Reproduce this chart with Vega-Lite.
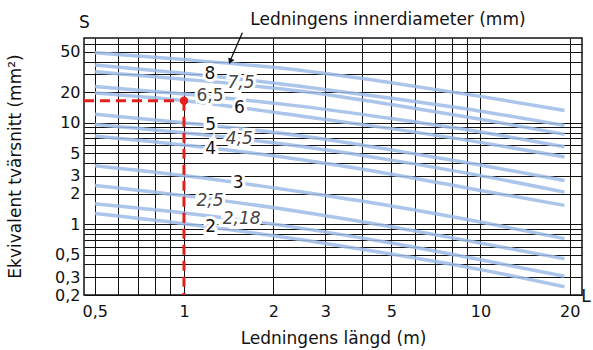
{
  "$schema": "https://vega.github.io/schema/vega-lite/v6.json",
  "width": 498,
  "height": 257,
  "autosize": "none",
  "padding": {"left": 84, "top": 38, "right": 11, "bottom": 55},
  "background": "white",
  "config": {
    "font": "DejaVu Sans",
    "view": {"stroke": "#111", "strokeWidth": 1.5},
    "axis": {"labelFont": "DejaVu Sans", "titleFont": "DejaVu Sans"}
  },
  "datasets": {
    "curves": [
      {"c": "10", "L": 0.5, "S": 48.9}, {"c": "10", "L": 1, "S": 42.0}, {"c": "10", "L": 2.5, "S": 32.7}, {"c": "10", "L": 5, "S": 24.8}, {"c": "10", "L": 10, "S": 18.2}, {"c": "10", "L": 19.2, "S": 13.2},
      {"c": "8", "L": 0.5, "S": 37.1}, {"c": "8", "L": 1, "S": 30.8}, {"c": "8", "L": 2.5, "S": 22.8}, {"c": "8", "L": 5, "S": 17.4}, {"c": "8", "L": 10, "S": 13.0}, {"c": "8", "L": 19.2, "S": 9.4},
      {"c": "7,5", "L": 0.5, "S": 31.9}, {"c": "7,5", "L": 1, "S": 26.9}, {"c": "7,5", "L": 2.5, "S": 20.4}, {"c": "7,5", "L": 5, "S": 15.1}, {"c": "7,5", "L": 10, "S": 10.8}, {"c": "7,5", "L": 19.2, "S": 7.7},
      {"c": "6,5", "L": 0.5, "S": 22.8}, {"c": "6,5", "L": 1, "S": 19.2}, {"c": "6,5", "L": 2.5, "S": 14.5}, {"c": "6,5", "L": 5, "S": 11.0}, {"c": "6,5", "L": 10, "S": 8.1}, {"c": "6,5", "L": 19.2, "S": 5.8},
      {"c": "6", "L": 0.5, "S": 19.6}, {"c": "6", "L": 1, "S": 16.5}, {"c": "6", "L": 2.5, "S": 11.6}, {"c": "6", "L": 5, "S": 8.75}, {"c": "6", "L": 10, "S": 6.4}, {"c": "6", "L": 19.2, "S": 4.6},
      {"c": "5", "L": 0.5, "S": 12.1}, {"c": "5", "L": 1, "S": 10.0}, {"c": "5", "L": 2.5, "S": 7.4}, {"c": "5", "L": 5, "S": 5.4}, {"c": "5", "L": 10, "S": 3.83}, {"c": "5", "L": 19.2, "S": 2.69},
      {"c": "4,5", "L": 0.5, "S": 9.6}, {"c": "4,5", "L": 1, "S": 7.95}, {"c": "4,5", "L": 2.5, "S": 5.83}, {"c": "4,5", "L": 5, "S": 4.28}, {"c": "4,5", "L": 10, "S": 3.01}, {"c": "4,5", "L": 19.2, "S": 2.07},
      {"c": "4", "L": 0.5, "S": 7.4}, {"c": "4", "L": 1, "S": 6.03}, {"c": "4", "L": 2.5, "S": 4.31}, {"c": "4", "L": 5, "S": 3.11}, {"c": "4", "L": 10, "S": 2.15}, {"c": "4", "L": 19.2, "S": 1.53},
      {"c": "3", "L": 0.5, "S": 3.77}, {"c": "3", "L": 1, "S": 3.01}, {"c": "3", "L": 2.5, "S": 2.07}, {"c": "3", "L": 5, "S": 1.51}, {"c": "3", "L": 10, "S": 1.05}, {"c": "3", "L": 19.2, "S": 0.72},
      {"c": "2,5", "L": 0.5, "S": 2.41}, {"c": "2,5", "L": 1, "S": 1.91}, {"c": "2,5", "L": 2.5, "S": 1.32}, {"c": "2,5", "L": 5, "S": 0.944}, {"c": "2,5", "L": 10, "S": 0.65}, {"c": "2,5", "L": 19.2, "S": 0.455},
      {"c": "2,18", "L": 0.5, "S": 1.59}, {"c": "2,18", "L": 1, "S": 1.29}, {"c": "2,18", "L": 2.5, "S": 0.908}, {"c": "2,18", "L": 5, "S": 0.65}, {"c": "2,18", "L": 10, "S": 0.445}, {"c": "2,18", "L": 19.2, "S": 0.306},
      {"c": "2", "L": 0.5, "S": 1.27}, {"c": "2", "L": 1, "S": 1.01}, {"c": "2", "L": 2.5, "S": 0.70}, {"c": "2", "L": 5, "S": 0.508}, {"c": "2", "L": 10, "S": 0.356}, {"c": "2", "L": 19.2, "S": 0.241}
    ],
    "labUp": [
      {"t": "8", "L": 1.224, "S": 30.3},
      {"t": "6", "L": 1.537, "S": 14.0},
      {"t": "5", "L": 1.23, "S": 9.6},
      {"t": "4", "L": 1.23, "S": 5.57},
      {"t": "3", "L": 1.524, "S": 2.55},
      {"t": "2", "L": 1.23, "S": 0.944}
    ],
    "labReg": [
      {"t": "6,5", "L": 1.224, "S": 18.2}
    ],
    "labIt": [
      {"t": "7,5", "L": 1.557, "S": 24.8},
      {"t": "4,5", "L": 1.537, "S": 6.98},
      {"t": "2,5", "L": 1.224, "S": 1.71},
      {"t": "2,18", "L": 1.565, "S": 1.12}
    ],
    "redH": [{"L": 0.46, "L2": 1, "S": 16.5}],
    "redV": [{"L": 1, "S": 16.5, "S2": 0.2}],
    "redDot": [{"L": 1, "S": 16.5}],
    "notes": [
      {"t": "Ledningens innerdiameter (mm)", "L": 4.876, "S": 102.9, "a": "center"},
      {"t": "S", "L": 0.461, "S": 95.5, "a": "center"},
      {"t": "L", "L": 22.7, "S": 0.19, "a": "left"}
    ],
    "arrow": [{"L": 1.573, "S": 77.2, "L2": 1.44, "S2": 42.6}],
    "arrowHead": [{"L": 1.432, "S": 40.3}]
  },
  "encoding": {
    "x": {
      "field": "L", "type": "quantitative",
      "scale": {"type": "log", "domain": [0.46, 22], "nice": false, "zero": false},
      "axis": {
        "values": [0.5, 0.6, 0.7, 0.8, 0.9, 1, 2, 3, 4, 5, 6, 7, 8, 9, 10, 20],
        "labelExpr": "indexof([0.5, 1, 2, 3, 5, 10, 20], datum.value) >= 0 ? replace(toString(datum.value), '.', ',') : ''",
        "grid": true, "gridColor": "#111", "gridWidth": 1, "gridOpacity": 1,
        "ticks": false, "domain": false,
        "labelFontSize": 16, "labelColor": "#111", "labelPadding": 8, "labelOverlap": false, "labelFlush": false,
        "title": "Ledningens längd (m)", "titleFontSize": 17, "titleFontWeight": "normal", "titleColor": "#111",
        "titleY": 43, "titleBaseline": "middle"
      }
    },
    "y": {
      "field": "S", "type": "quantitative",
      "scale": {"type": "log", "domain": [0.2, 68.5], "nice": false, "zero": false},
      "axis": {
        "values": [0.2, 0.3, 0.4, 0.5, 0.6, 0.7, 0.8, 0.9, 1, 2, 3, 4, 5, 6, 7, 8, 9, 10, 20, 30, 40, 50, 60],
        "labelExpr": "indexof([0.2, 0.3, 0.5, 1, 2, 3, 5, 10, 20, 50], datum.value) >= 0 ? replace(toString(datum.value), '.', ',') : ''",
        "grid": true, "gridColor": "#111", "gridWidth": 1, "gridOpacity": 1,
        "ticks": false, "domain": false,
        "labelFontSize": 16, "labelColor": "#111", "labelPadding": 4, "labelOverlap": false, "labelFlush": false,
        "title": "Ekvivalent tvärsnitt (mm²)", "titleFontSize": 17, "titleFontWeight": "normal", "titleColor": "#111",
        "titleX": -69, "titleY": 128, "titleAngle": -90, "titleAlign": "center", "titleBaseline": "middle"
      }
    }
  },
  "layer": [
    {
      "data": {"name": "curves"},
      "mark": {"type": "line", "interpolate": "monotone", "strokeWidth": 3.5, "color": "#9cbbe8", "opacity": 0.85, "strokeCap": "butt"},
      "encoding": {"detail": {"field": "c", "type": "nominal"}}
    },
    {
      "data": {"name": "redH"},
      "mark": {"type": "rule", "color": "#e3201c", "strokeWidth": 3, "strokeDash": [10, 6]},
      "encoding": {"x2": {"field": "L2"}}
    },
    {
      "data": {"name": "redV"},
      "mark": {"type": "rule", "color": "#e3201c", "strokeWidth": 3, "strokeDash": [10, 6]},
      "encoding": {"y2": {"field": "S2"}}
    },
    {
      "data": {"name": "redDot"},
      "mark": {"type": "point", "filled": true, "color": "#e3201c", "size": 70, "opacity": 1}
    },
    {
      "data": {"name": "labUp"},
      "mark": {"type": "text", "fontSize": 17, "stroke": "white", "strokeWidth": 6, "fill": "white", "align": "center", "baseline": "middle"},
      "encoding": {"text": {"field": "t"}}
    },
    {
      "data": {"name": "labReg"},
      "mark": {"type": "text", "fontSize": 17, "stroke": "white", "strokeWidth": 6, "fill": "white", "align": "center", "baseline": "middle"},
      "encoding": {"text": {"field": "t"}}
    },
    {
      "data": {"name": "labIt"},
      "mark": {"type": "text", "fontSize": 17, "fontStyle": "italic", "stroke": "white", "strokeWidth": 6, "fill": "white", "align": "center", "baseline": "middle"},
      "encoding": {"text": {"field": "t"}}
    },
    {
      "data": {"name": "labUp"},
      "mark": {"type": "text", "fontSize": 17, "color": "#111", "align": "center", "baseline": "middle"},
      "encoding": {"text": {"field": "t"}}
    },
    {
      "data": {"name": "labReg"},
      "mark": {"type": "text", "fontSize": 17, "color": "#444", "align": "center", "baseline": "middle"},
      "encoding": {"text": {"field": "t"}}
    },
    {
      "data": {"name": "labIt"},
      "mark": {"type": "text", "fontSize": 17, "fontStyle": "italic", "color": "#444", "align": "center", "baseline": "middle"},
      "encoding": {"text": {"field": "t"}}
    },
    {
      "data": {"name": "notes"},
      "mark": {"type": "text", "fontSize": 17, "color": "#111", "baseline": "middle"},
      "encoding": {"text": {"field": "t"}, "align": {"field": "a", "type": "nominal", "scale": null}}
    },
    {
      "data": {"name": "arrow"},
      "mark": {"type": "rule", "color": "#111", "strokeWidth": 1.3},
      "encoding": {"x2": {"field": "L2"}, "y2": {"field": "S2"}}
    },
    {
      "data": {"name": "arrowHead"},
      "mark": {"type": "point", "shape": "triangle-up", "filled": true, "color": "#111", "size": 45, "angle": 202.5, "opacity": 1}
    }
  ]
}
